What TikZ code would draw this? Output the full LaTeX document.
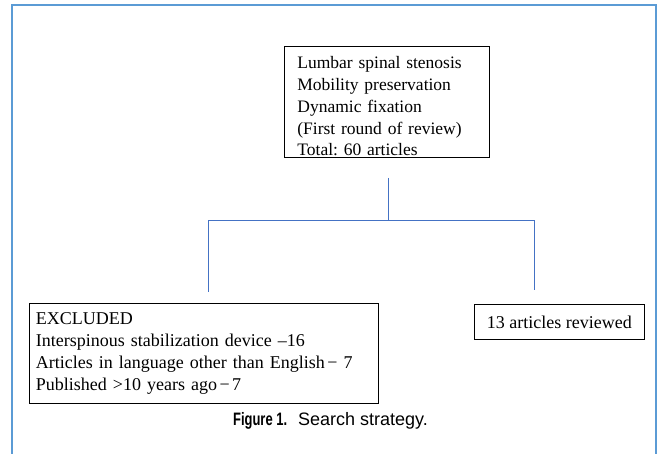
\documentclass[tikz,border=0pt]{standalone}
\usepackage{fontspec}
\setmainfont{Liberation Serif}
\newfontfamily\capfont{Liberation Sans}
\definecolor{framecol}{RGB}{91,155,213}
\definecolor{linecol}{RGB}{68,114,196}
\frenchspacing
\begin{document}
\begin{tikzpicture}[x=1pt,y=-1pt,
  box/.style={draw=black, line width=0.8pt, align=left, anchor=north west,
    font=\fontsize{17.5}{21.8}\selectfont, inner sep=0pt},
  conn/.style={draw=linecol, line width=1pt}]
\useasboundingbox (0,0) rectangle (657,454);
\draw[framecol, line width=2pt] (12,454) -- (12,5) -- (656,5) -- (656,454);
% top box
\node[box, minimum width=205pt, minimum height=111pt, text width=179pt] (top) at (284,46)
  {\rule{0pt}{21pt}Lumbar spinal stenosis\\Mobility preservation\\Dynamic fixation\\(First round of review)\\Total: 60 articles};
% excluded box
\node[box, minimum width=349pt, minimum height=100pt, text width=336pt,
  font=\fontsize{18}{22}\selectfont] (excl) at (29,303)
  {EXCLUDED\\Interspinous stabilization device –16\\Articles in language other than English\hspace{2.5pt}−\hspace{6pt}7\\Published >10 years ago\hspace{2.5pt}−\hspace{2.5pt}7};
% reviewed box
\node[box, minimum width=170pt, minimum height=35pt, align=center,
  font=\fontsize{18}{22}\selectfont] (rev) at (474,304)
  {13 articles reviewed};
% connectors
\coordinate (t1) at (388,178);
\coordinate (j) at (388,221);
\coordinate (l1) at (208,221);
\coordinate (r1) at (534,221);
\coordinate (l2) at (208,292);
\coordinate (r2) at (534,290);
\draw[conn] (t1) -- (j);
\draw[conn] (l2) -- (l1) -- (r1) -- (r2);
% caption
\node[font=\capfont\fontsize{18}{20}\selectfont, anchor=center] (cap) at (330.5,421)
  {\scalebox{0.72}[1]{\textbf{Figure 1.}}\hspace{11pt}Search strategy.};
\end{tikzpicture}
\end{document}
